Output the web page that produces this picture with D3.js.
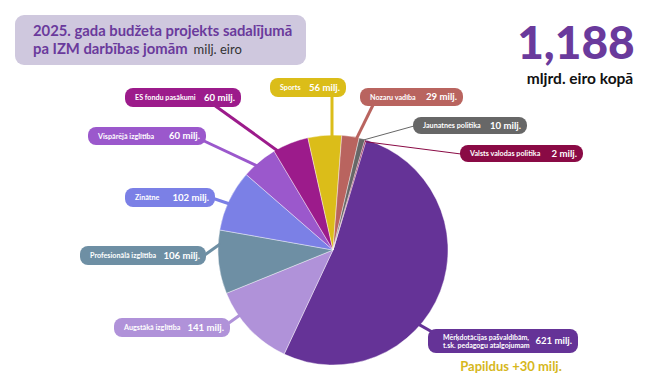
<!DOCTYPE html>
<meta charset="utf-8">
<style>
    body { margin: 0; background: #fff; }
    text { font-family: Lato, "Noto Sans", sans-serif; }
</style>
<script src="https://d3js.org/d3.v7.min.js"></script>
<div id="chart"></div>
<script>

    /* Data */
    var categories = ["Mērķdotācijas pašvaldībām, t.sk. pedagogu atalgojumam", "Augstākā izglītība",
        "Profesionālā izglītība", "Zinātne", "Vispārējā izglītība", "ES fondu pasākumi",
        "Sports", "Nozaru vadība", "Jaunatnes politika", "Valsts valodas politika"];
    var values = [621, 141, 106, 102, 60, 60, 56, 29, 10, 2];
    var value_labels = ["621 milj.", "141 milj.", "106 milj.", "102 milj.", "60 milj.", "60 milj.",
        "56 milj.", "29 milj.", "10 milj.", "2 milj."];
    var total_label = "1,188";

    /* Styles */
    var colors = ["#653397", "#b092d9", "#6e8fa4", "#7b80e6", "#9b58cc", "#9c1b8b",
        "#dbbd19", "#b9645f", "#676767", "#8a0a45"];

    // label layout: pill box, leader start point, leader end angle (deg, clockwise from top)
    var pills = [
        {x: 428, y: 329, w: 150, h: 24, sx: 434, sy: 333, a: 131, lw: 3},
        {x: 114, y: 318, w: 116, h: 19, sx: 226, sy: 325, a: 235, lw: 3},
        {x: 80,  y: 246, w: 126, h: 19, sx: 204, sy: 255.5, a: 273, lw: 3},
        {x: 125, y: 188, w: 90,  h: 19, sx: 212, sy: 198, a: 294, lw: 3},
        {x: 88,  y: 127, w: 118, h: 18, sx: 202, sy: 140, a: 318, lw: 3},
        {x: 125, y: 88,  w: 116, h: 19, sx: 214, sy: 105, a: 331, lw: 3},
        {x: 270, y: 78,  w: 76,  h: 19, sx: 332, sy: 96,  a: -0.5, lw: 3},
        {x: 360, y: 88,  w: 103, h: 18, sx: 373, sy: 105, a: 11.8, lw: 3},
        {x: 413, y: 117, w: 114, h: 17, sx: 414, sy: 126, a: 14.5, lw: 1},
        {x: 460, y: 145, w: 123, h: 17, sx: 461, sy: 154, a: 16.5, lw: 1}
    ];

    var width = 665, height = 375;
    var cx = 333, cy = 250, radius = 115;
    var start_deg = 16.8;

    var svg = d3.select("#chart").append("svg").attr("width", width).attr("height", height);

    // Title box.
    svg.append("rect").attr("x", 15).attr("y", 15).attr("width", 291).attr("height", 50)
        .attr("rx", 9).attr("fill", "#cfc8de");
    svg.append("text").attr("x", 33).attr("y", 36).attr("font-size", "14.8px").attr("font-weight", "bold")
        .attr("fill", "#6a3a9c").text("2025. gada budžeta projekts sadalījumā");
    var t2 = svg.append("text").attr("x", 33).attr("y", 54).attr("font-size", "14.8px");
    t2.append("tspan").attr("font-weight", "bold").attr("fill", "#6a3a9c").text("pa IZM darbības jomām");
    t2.append("tspan").attr("dx", 6).attr("fill", "#333").attr("font-size", "13px").text("milj. eiro");

    // Total.
    svg.append("text").attr("x", 576).attr("y", 59).attr("text-anchor", "middle")
        .attr("font-size", "46px").attr("font-weight", "900").attr("fill", "#6a3a9c").text(total_label);
    svg.append("text").attr("x", 580).attr("y", 84).attr("text-anchor", "middle")
        .attr("font-size", "15.5px").attr("font-weight", "bold").attr("fill", "#111").text("mljrd. eiro kopā");

    // Pie.
    var pie = d3.pie().sort(null)
        .startAngle(start_deg * Math.PI / 180)
        .endAngle(start_deg * Math.PI / 180 + 2 * Math.PI);
    var arcs = pie(values);
    var arc = d3.arc().innerRadius(0).outerRadius(radius);
    var g = svg.append("g").attr("transform", "translate(" + cx + "," + cy + ")");

    // Leader lines (under the pie and pills).
    var lines = svg.append("g");
    pills.forEach(function(p, i) {
        var ang = p.a * Math.PI / 180;
        var r = radius - 2;
        lines.append("line")
            .attr("x1", p.sx).attr("y1", p.sy)
            .attr("x2", cx + r * Math.sin(ang)).attr("y2", cy - r * Math.cos(ang))
            .attr("stroke", colors[i]).attr("stroke-width", p.lw);
    });

    g.selectAll("path").data(arcs).enter().append("path")
        .attr("d", arc)
        .attr("fill", function(d, i) { return colors[i]; })
        .attr("stroke", "#fff").attr("stroke-width", 0.4);

    // Pills.
    var labels = svg.append("g");
    pills.forEach(function(p, i) {
        var pg = labels.append("g");
        pg.append("rect").attr("x", p.x).attr("y", p.y).attr("width", p.w).attr("height", p.h)
            .attr("rx", 8).attr("fill", colors[i]);
        var mid = p.y + p.h / 2;
        if (i === 0) {
            var parts = categories[0].split(", ");
            pg.append("text").attr("x", p.x + 15).attr("y", mid - 1).attr("font-size", "7px")
                .attr("font-weight", "bold").attr("fill", "#fff").text(parts[0] + ",");
            pg.append("text").attr("x", p.x + 15).attr("y", mid + 6.5).attr("font-size", "7px")
                .attr("font-weight", "bold").attr("fill", "#fff").text(parts[1]);
        } else {
            pg.append("text").attr("x", p.x + 10).attr("y", mid + 2.6).attr("font-size", "7.2px")
                .attr("font-weight", "bold").attr("fill", "#fff").text(categories[i]);
        }
        pg.append("text").attr("x", p.x + p.w - 6).attr("y", mid + 3.4).attr("text-anchor", "end")
            .attr("font-size", "9.6px").attr("font-weight", "bold").attr("fill", "#fff").text(value_labels[i]);
    });

    // Extra note.
    svg.append("text").attr("x", 511).attr("y", 371).attr("text-anchor", "middle")
        .attr("font-size", "13px").attr("font-weight", "bold").attr("fill", "#d6b71c").text("Papildus +30 milj.");

</script>
